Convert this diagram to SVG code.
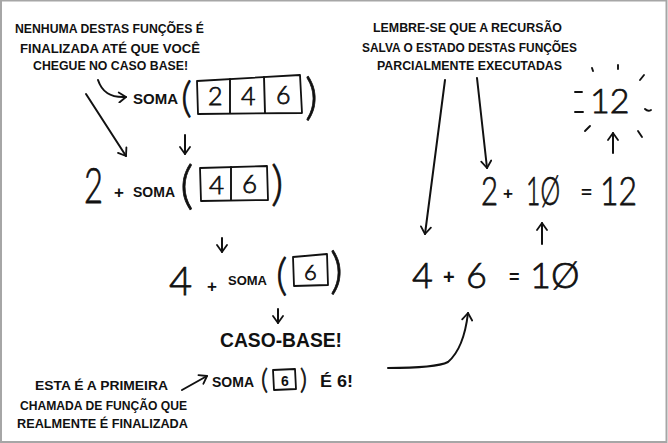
<svg xmlns="http://www.w3.org/2000/svg" width="668" height="443" viewBox="0 0 668 443">
<defs>
<marker id="ah" markerWidth="12" markerHeight="12" refX="9" refY="6" orient="auto" markerUnits="userSpaceOnUse">
<path d="M2,1 L9,6 L2,11" fill="none" stroke="#111" stroke-width="1.8" stroke-linecap="round" stroke-linejoin="round"/>
</marker>
</defs>
<style>
.note{font-family:"Liberation Sans",Arial,sans-serif;font-weight:bold;font-size:12.5px;fill:#111}
.lbl{font-family:"Liberation Sans",Arial,sans-serif;font-weight:bold;fill:#111}
.hand{font-family:Lato,"Open Sans",sans-serif;font-weight:300;fill:#111;stroke:#111;stroke-width:0.75}
.b{font-family:"Liberation Sans",Arial,sans-serif;font-weight:bold;stroke:none}
.box{fill:none;stroke:#111;stroke-width:1.8;stroke-linejoin:round}
.ln{fill:none;stroke:#111;stroke-width:1.9;stroke-linecap:round}
.conn{fill:none;stroke:#111;stroke-width:2;stroke-linecap:round;marker-end:url(#ah)}
</style>
<rect x="0" y="0" width="668" height="443" fill="#fff"/>
<rect x="1" y="0.5" width="665.5" height="441.5" fill="none" stroke="#a6a6a6" stroke-width="2"/>

<g id="note-top-left">
<text class="note" x="15" y="33" textLength="189" lengthAdjust="spacingAndGlyphs">NENHUMA DESTAS FUNÇÕES É</text>
<text class="note" x="20" y="53" textLength="180" lengthAdjust="spacingAndGlyphs">FINALIZADA ATÉ QUE VOCÊ</text>
<text class="note" x="33" y="70" textLength="155" lengthAdjust="spacingAndGlyphs">CHEGUE NO CASO BASE!</text>
</g>

<g id="call-246">
<polygon class="box" points="197,81 300,75 302,113 198,114"/>
<line class="ln" x1="230" y1="79" x2="230" y2="113"/>
<line class="ln" x1="264" y1="77" x2="265" y2="113"/>
<text class="hand"><tspan class="b" x="133" y="104" font-size="15">SOMA</tspan><tspan x="181" y="112" font-size="42">(</tspan><tspan x="208" y="105" font-size="25">2</tspan><tspan x="241" y="105" font-size="25">4</tspan><tspan x="276" y="104" font-size="25">6</tspan><tspan x="305" y="114" font-size="50">)</tspan></text>
</g>

<g id="call-46">
<polygon class="box" points="200,168 267,166 268,200 201,201"/>
<line class="ln" x1="231" y1="167" x2="231" y2="200"/>
<text class="hand" x="84" y="203" font-size="50" textLength="19" lengthAdjust="spacingAndGlyphs">2</text>
<text class="hand"><tspan class="b" x="114" y="198" font-size="17">+</tspan><tspan class="b" x="133" y="197" font-size="14">SOMA</tspan><tspan x="180" y="203" font-size="52">(</tspan><tspan x="209" y="194" font-size="26">4</tspan><tspan x="242" y="193" font-size="26">6</tspan><tspan x="271" y="200" font-size="48">)</tspan></text>
</g>

<g id="call-6">
<polygon class="box" points="293,257 327,254 328,285 294,286"/>
<text class="hand"><tspan x="169" y="295" font-size="40">4</tspan><tspan class="b" x="207" y="292" font-size="17">+</tspan><tspan class="b" x="228" y="285" font-size="13">SOMA</tspan><tspan x="276" y="290" font-size="44">(</tspan><tspan x="304" y="280" font-size="22">6</tspan><tspan x="330" y="288" font-size="50">)</tspan></text>
</g>

<g id="base-case">
<text class="lbl" x="220" y="347" font-size="21" textLength="122" lengthAdjust="spacingAndGlyphs">CASO-BASE!</text>
</g>

<g id="base-result">
<polygon class="box" points="273,370 295,369 296,389 274,390"/>
<text class="lbl" x="212" y="387" font-size="15.5" textLength="42" lengthAdjust="spacingAndGlyphs">SOMA</text>
<text class="hand" x="261" y="389" font-size="27">(</text>
<text class="lbl" x="285" y="386" font-size="14" text-anchor="middle">6</text>
<text class="hand" x="300" y="389" font-size="27">)</text>
<text class="lbl" x="320" y="387" font-size="17" textLength="33" lengthAdjust="spacingAndGlyphs">É 6!</text>
</g>

<g id="note-bottom-left">
<text class="note" x="35" y="390" textLength="133" lengthAdjust="spacingAndGlyphs">ESTA É A PRIMEIRA</text>
<text class="note" x="20" y="410" textLength="167" lengthAdjust="spacingAndGlyphs">CHAMADA DE FUNÇÃO QUE</text>
<text class="note" x="17" y="428" textLength="171" lengthAdjust="spacingAndGlyphs">REALMENTE É FINALIZADA</text>
</g>

<g id="note-top-right">
<text class="note" x="373" y="32" textLength="189" lengthAdjust="spacingAndGlyphs">LEMBRE-SE QUE A RECURSÃO</text>
<text class="note" x="362" y="52" textLength="215" lengthAdjust="spacingAndGlyphs">SALVA O ESTADO DESTAS FUNÇÕES</text>
<text class="note" x="377" y="70" textLength="185" lengthAdjust="spacingAndGlyphs">PARCIALMENTE EXECUTADAS</text>
</g>

<g id="sum-4-6">
<text class="hand"><tspan x="412" y="288" font-size="36">4</tspan><tspan class="b" x="443" y="284" font-size="20">+</tspan><tspan x="466" y="288" font-size="36">6</tspan><tspan class="b" x="509" y="283" font-size="18">=</tspan><tspan x="530" y="288" font-size="36">1Ø</tspan></text>
</g>

<g id="sum-2-10">
<text class="hand" x="481" y="205" font-size="39" textLength="17" lengthAdjust="spacingAndGlyphs">2</text>
<text class="lbl" x="503" y="199" font-size="17" textLength="10" lengthAdjust="spacingAndGlyphs">+</text>
<text class="hand" x="526" y="205" font-size="39" textLength="34" lengthAdjust="spacingAndGlyphs">1Ø</text>
<text class="lbl" x="581" y="198" font-size="17" textLength="11" lengthAdjust="spacingAndGlyphs">=</text>
<text class="hand" x="600" y="205" font-size="39" textLength="37" lengthAdjust="spacingAndGlyphs">12</text>
</g>

<g id="result-12">
<text class="hand" x="590" y="113" font-size="34">12</text>
<path class="ln" d="M592,68 L593,71 M618,65 L618,69 M640,80 L644,75 M575,92 L582,92 M575,112 L583,112 M645,109 Q648,112 651,110 M585,131 L590,126 M638,131 L642,137"/>
</g>

<g id="connectors">
<path class="conn" d="M98,80 C102,92 110,98 126,97"/>
<path class="conn" d="M86,94 L126,156"/>
<path class="conn" d="M185,135 L185,154"/>
<path class="conn" d="M222,238 L222,252"/>
<path class="conn" d="M278,309 L278,323"/>
<path class="conn" d="M182,390 L207,376"/>
<path class="conn" d="M445,80 L425,234"/>
<path class="conn" d="M477,78 L487,168"/>
<path class="conn" d="M388,368 C420,368 440,366 448,362 C462,350 466,330 468,313"/>
<path class="conn" d="M542,244 L542,223"/>
<path class="conn" d="M613,153 L613,133"/>
</g>
</svg>
